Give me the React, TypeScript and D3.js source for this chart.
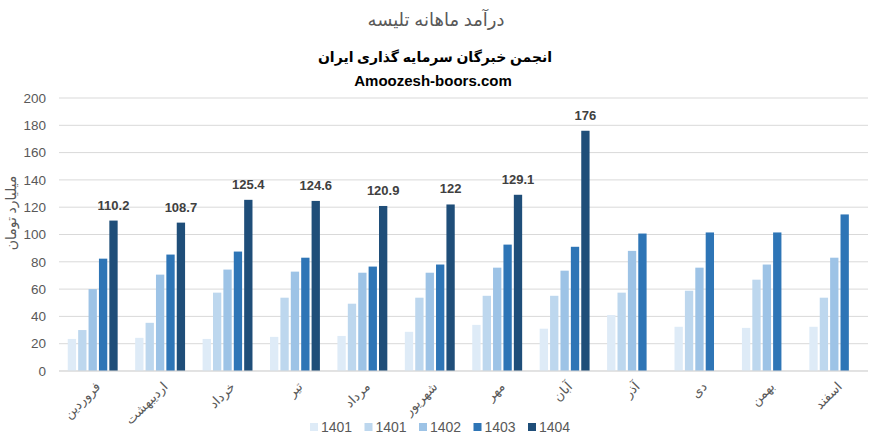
import React from "react";
import * as d3 from "d3";

const months = ["فروردین", "اردیبهشت", "خرداد", "تیر", "مرداد", "شهریور", "مهر", "آبان", "آذر", "دی", "بهمن", "اسفند"];
const seriesNames = ["1401", "1401", "1402", "1403", "1404"];
const s1401a = [23.5, 24.3, 23.5, 25, 25.7, 28.7, 33.8, 31, 41, 32.4, 31.6, 32.4];
const s1401b = [30, 35.3, 57.4, 53.7, 49.3, 53.7, 55.1, 55.1, 57.4, 58.8, 66.9, 53.7];
const s1402 = [60, 70.6, 74.3, 72.8, 72, 72, 75.7, 73.5, 88, 75.7, 78, 83];
const s1403 = [82.3, 85.3, 87.5, 83, 76.5, 78, 92.6, 91, 100.7, 101.5, 101.5, 114.7];
const s1404: (number | null)[] = [110.2, 108.7, 125.4, 124.6, 120.9, 122, 129.1, 176, null, null, null, null];
const yTicks = [0, 20, 40, 60, 80, 100, 120, 140, 160, 180, 200];
const colors = ["#DEEBF7", "#BDD7EE", "#9DC3E6", "#2E75B6", "#1F4E79"];

const W = 891, H = 442;
const left = 59, right = 868, top = 98, bottom = 371;

export default function App() {
  const series = [s1401a, s1401b, s1402, s1403, s1404];
  const x = d3.scaleBand<string>().domain(months).range([left, right]).paddingInner(0.26).paddingOuter(0.13);
  const xs = d3.scaleBand<number>().domain(d3.range(5)).range([0, x.bandwidth()]).paddingInner(0.2);
  const y = d3.scaleLinear().domain([0, 200]).range([bottom, top]);
  const font = "Calibri, 'Liberation Sans', 'DejaVu Sans', sans-serif";
  const legendX = d3.scaleLinear().domain([0, 4]).range([310, 528]);
  return (
    <svg width={W} height={H} style={{ position: "absolute", left: 0, top: 0, fontFamily: font }}>
      <rect width={W} height={H} fill="#fff" />
      <text x={436} y={26} textAnchor="middle" fontSize={18} fill="#595959" fontFamily="'Noto Sans', 'DejaVu Sans', sans-serif">درآمد ماهانه تلیسه</text>
      <text x={435} y={62} textAnchor="middle" fontSize={14} fontWeight="bold" fill="#000" fontFamily="'Noto Sans', 'DejaVu Sans', sans-serif">انجمن خبرگان سرمایه گذاری ایران</text>
      <text x={433} y={86} textAnchor="middle" fontSize={15} fontWeight="bold" fill="#000" fontFamily="'Liberation Sans', Arial, sans-serif">Amoozesh-boors.com</text>
      {yTicks.map(t => (
        <g key={t}>
          <line x1={left} x2={right} y1={y(t)} y2={y(t)} stroke="#D9D9D9" strokeWidth={1} />
          <text x={46} y={y(t)} dy="0.35em" textAnchor="end" fontSize={13.5} fill="#595959" fontFamily="'Liberation Sans', Arial, sans-serif">{t}</text>
        </g>
      ))}
      <text transform={`translate(16,213) rotate(-90)`} textAnchor="middle" fontSize={14} fill="#595959" fontFamily="'Noto Sans', 'DejaVu Sans', sans-serif">میلیارد تومان</text>
      {series.map((s, si) => (
        <g key={si}>
          {months.map((m, i) => {
            const v = s[i];
            if (v == null) return null;
            return <rect key={m} x={(x(m) as number) + (xs(si) as number)} y={y(v)} width={xs.bandwidth()} height={y(0) - y(v)} fill={colors[si]} />;
          })}
        </g>
      ))}
      {months.map((m, i) => {
        const v = s1404[i];
        if (v == null) return null;
        return (
          <text key={m} x={(x(m) as number) + (xs(4) as number) + xs.bandwidth() / 2} y={y(v) - 11} textAnchor="middle" fontSize={13} fontWeight="bold" fill="#404040" fontFamily="'Liberation Sans', Arial, sans-serif">{v}</text>
        );
      })}
      <line x1={left} x2={right} y1={bottom} y2={bottom} stroke="#D9D9D9" strokeWidth={1} />
      {months.map(m => {
        const cx = (x(m) as number) + x.bandwidth() / 2;
        return (
          <text key={m} transform={`translate(${cx + 2},381) rotate(-45)`} textAnchor="end" dy="0.7em" fontSize={13} fill="#595959" fontFamily="'Noto Sans', 'DejaVu Sans', sans-serif">{m}</text>
        );
      })}
      {seriesNames.map((n, i) => (
        <g key={i} transform={`translate(${legendX(i)},427)`}>
          <rect x={0} y={-4} width={8} height={8} fill={colors[i]} />
          <text x={11} y={0} dy="0.35em" fontSize={14} fill="#595959" fontFamily="'Liberation Sans', Arial, sans-serif">{n}</text>
        </g>
      ))}
    </svg>
  );
}
